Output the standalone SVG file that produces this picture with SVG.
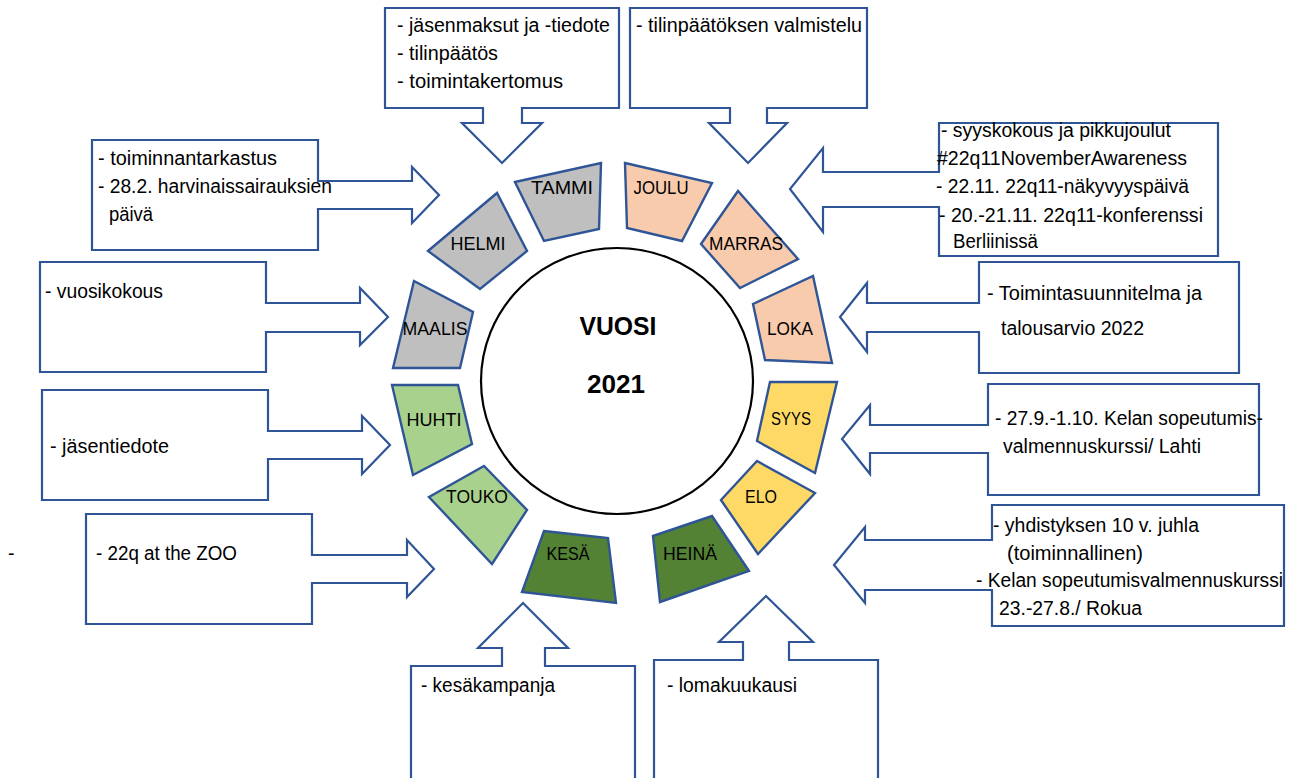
<svg xmlns="http://www.w3.org/2000/svg" width="1294" height="778" viewBox="0 0 1294 778">
<style>
.bg{fill:#ffffff}
.co{fill:#ffffff;stroke:#2F5597;stroke-width:2.2;stroke-linejoin:miter}
.m{stroke:#2F5597;stroke-width:2.4;stroke-linejoin:miter}
.gray{fill:#BFBFBF}
.peach{fill:#F8CBAD}
.yel{fill:#FFD966}
.lg{fill:#A9D18E}
.dg{fill:#548235}
text{font-family:"Liberation Sans",Arial,sans-serif;font-size:19.5px;fill:#000}
.ml{text-anchor:middle;font-size:19px}
.big{font-weight:bold;font-size:26px;text-anchor:middle}
</style>
<rect class="bg" x="0" y="0" width="1294" height="778"/>

<g id="callouts">
<g id="c-tammi">
<path class="co" d="M385,8 H619 V108 H522 V123 H542 L502,163 L462,123 H483 V108 H385 Z"/>
<text x="397" y="32" textLength="213" lengthAdjust="spacingAndGlyphs">- jäsenmaksut ja -tiedote</text>
<text x="397" y="60" textLength="101" lengthAdjust="spacingAndGlyphs">- tilinpäätös</text>
<text x="397" y="88" textLength="166" lengthAdjust="spacingAndGlyphs">- toimintakertomus</text>
</g>
<g id="c-joulu">
<path class="co" d="M630,8 H867 V108 H767 V123 H787 L748,163 L709,123 H730 V108 H630 Z"/>
<text x="636" y="32" textLength="226" lengthAdjust="spacingAndGlyphs">- tilinpäätöksen valmistelu</text>
</g>
<g id="c-helmi">
<path class="co" d="M92,140 H318 V181 H412 V167 L439,195 L412,223 V209 H318 V250 H92 Z"/>
<text x="98" y="165" textLength="179" lengthAdjust="spacingAndGlyphs">- toiminnantarkastus</text>
<text x="98" y="193" textLength="234" lengthAdjust="spacingAndGlyphs">- 28.2. harvinaissairauksien</text>
<text x="109" y="221" textLength="44" lengthAdjust="spacingAndGlyphs">päivä</text>
</g>
<g id="c-marras">
<path class="co" d="M939,123 H1218 V256 H939 V207 H823 V232 L790,189 L823,148 V172 H939 Z"/>
<text x="941" y="137" textLength="230" lengthAdjust="spacingAndGlyphs">- syyskokous ja pikkujoulut</text>
<text x="937" y="165" textLength="250" lengthAdjust="spacingAndGlyphs">#22q11NovemberAwareness</text>
<text x="936" y="193" textLength="253" lengthAdjust="spacingAndGlyphs">- 22.11. 22q11-näkyvyyspäivä</text>
<text x="939" y="222" textLength="264" lengthAdjust="spacingAndGlyphs">- 20.-21.11. 22q11-konferenssi</text>
<text x="953" y="248" textLength="85" lengthAdjust="spacingAndGlyphs">Berliinissä</text>
</g>
<g id="c-maalis">
<path class="co" d="M40,262 H266 V303 H360 V288 L388,317 L360,345 V332 H266 V372 H40 Z"/>
<text x="45" y="298" textLength="118" lengthAdjust="spacingAndGlyphs">- vuosikokous</text>
</g>
<g id="c-loka">
<path class="co" d="M979,262 H1239 V373 H979 V332 H867 V352 L840,317 L867,283 V303 H979 Z"/>
<text x="987" y="300" textLength="215" lengthAdjust="spacingAndGlyphs">- Toimintasuunnitelma ja</text>
<text x="1001" y="335" textLength="143" lengthAdjust="spacingAndGlyphs">talousarvio 2022</text>
</g>
<g id="c-huhti">
<path class="co" d="M42,390 H268 V431 H362 V416 L390,445 L362,474 V459 H268 V500 H42 Z"/>
<text x="50" y="453" textLength="119" lengthAdjust="spacingAndGlyphs">- jäsentiedote</text>
</g>
<g id="c-syys">
<path class="co" d="M988,384 H1259 V495 H988 V453 H870 V474 L842,439 L870,405 V425 H988 Z"/>
<text x="995" y="425" textLength="268" lengthAdjust="spacingAndGlyphs">- 27.9.-1.10. Kelan sopeutumis-</text>
<text x="1003" y="453" textLength="198" lengthAdjust="spacingAndGlyphs">valmennuskurssi/ Lahti</text>
</g>
<g id="c-touko">
<path class="co" d="M86,514 H312 V555 H407 V540 L434,569 L407,597 V583 H312 V624 H86 Z"/>
<text x="96" y="560" textLength="141" lengthAdjust="spacingAndGlyphs">- 22q at the ZOO</text>
<text x="8" y="560">-</text>
</g>
<g id="c-elo">
<path class="co" d="M992,505 H1284 V626 H992 V590 H865 V603 L834,565 L865,527 V540 H992 Z"/>
<text x="993" y="532" textLength="206" lengthAdjust="spacingAndGlyphs">- yhdistyksen 10 v. juhla</text>
<text x="1007" y="560" textLength="136" lengthAdjust="spacingAndGlyphs">(toiminnallinen)</text>
<text x="976" y="587" textLength="307" lengthAdjust="spacingAndGlyphs">- Kelan sopeutumisvalmennuskurssi</text>
<text x="999" y="615" textLength="143" lengthAdjust="spacingAndGlyphs">23.-27.8./ Rokua</text>
</g>
<g id="c-kesa">
<path class="co" d="M411,790 V666 H502 V648 H478 L523,603 L568,648 H545 V666 H635 V790 Z"/>
<text x="421" y="692" textLength="134" lengthAdjust="spacingAndGlyphs">- kesäkampanja</text>
</g>
<g id="c-heina">
<path class="co" d="M654,790 V660 H743 V642 H719 L766,596 L813,642 H789 V660 H878 V790 Z"/>
<text x="667" y="692" textLength="130" lengthAdjust="spacingAndGlyphs">- lomakuukausi</text>
</g>
</g>

<g id="months">
<g id="tammi"><polygon class="m gray" points="515,182 601,163 599,229 544,241"/><text class="ml" x="562" y="194" textLength="62" lengthAdjust="spacingAndGlyphs">TAMMI</text></g>
<g id="helmi"><polygon class="m gray" points="428,251 497,193 527,251 480,289"/><text class="ml" x="478" y="250" textLength="55" lengthAdjust="spacingAndGlyphs">HELMI</text></g>
<g id="maalis"><polygon class="m gray" points="414,281 473,312 460,368 393,368"/><text class="ml" x="435" y="335" textLength="65" lengthAdjust="spacingAndGlyphs">MAALIS</text></g>
<g id="huhti"><polygon class="m lg" points="392,385 458,385 472,444 413,475"/><text class="ml" x="434" y="426" textLength="55" lengthAdjust="spacingAndGlyphs">HUHTI</text></g>
<g id="touko"><polygon class="m lg" points="429,497 484,466 527,510 492,564"/><text class="ml" x="477" y="503" textLength="62" lengthAdjust="spacingAndGlyphs">TOUKO</text></g>
<g id="kesa"><polygon class="m dg" points="544,531 608,538 616,603 522,592"/><text class="ml" x="568" y="560" textLength="43" lengthAdjust="spacingAndGlyphs">KESÄ</text></g>
<g id="heina"><polygon class="m dg" points="653,536 712,516 749,571 660,602"/><text class="ml" x="690" y="560" textLength="54" lengthAdjust="spacingAndGlyphs">HEINÄ</text></g>
<g id="elo"><polygon class="m yel" points="721,500 757,461 815,493 758,554"/><text class="ml" x="761" y="503" textLength="32" lengthAdjust="spacingAndGlyphs">ELO</text></g>
<g id="syys"><polygon class="m yel" points="770,382 837,382 815,473 757,441"/><text class="ml" x="791" y="425" textLength="40" lengthAdjust="spacingAndGlyphs">SYYS</text></g>
<g id="loka"><polygon class="m peach" points="753,304 813,276 832,363 765,360"/><text class="ml" x="790" y="335" textLength="46" lengthAdjust="spacingAndGlyphs">LOKA</text></g>
<g id="marras"><polygon class="m peach" points="701,244 738,191 798,259 740,288"/><text class="ml" x="746" y="250" textLength="74" lengthAdjust="spacingAndGlyphs">MARRAS</text></g>
<g id="joulu"><polygon class="m peach" points="625,163 712,183 682,241 627,228"/><text class="ml" x="661" y="194" textLength="55" lengthAdjust="spacingAndGlyphs">JOULU</text></g>
</g>

<g id="center">
<ellipse cx="617" cy="381" rx="136" ry="133" fill="#ffffff" stroke="#000000" stroke-width="2.2"/>
<text class="big" x="618" y="335" textLength="77" lengthAdjust="spacingAndGlyphs">VUOSI</text>
<text class="big" x="616" y="393" textLength="58" lengthAdjust="spacingAndGlyphs">2021</text>
</g>
</svg>
